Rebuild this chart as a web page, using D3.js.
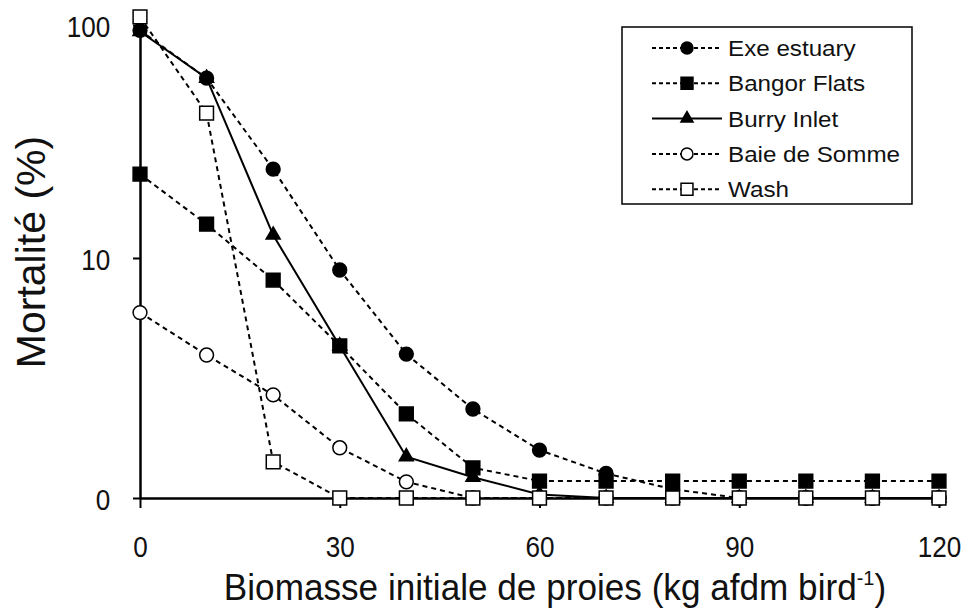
<!DOCTYPE html>
<html>
<head>
<meta charset="utf-8">
<script src="https://cdn.jsdelivr.net/npm/d3@7"></script>
<style>
  html, body { margin: 0; padding: 0; background: #fff; }
  svg { display: block; font-family: "Liberation Sans", Arial, sans-serif; }
</style>
</head>
<body>
<svg id="chart" width="970" height="608"></svg>
<script>
// ---- data ----
const biomass = [0, 10, 20, 30, 40, 50, 60, 70, 80, 90, 100, 110, 120];
const exeEstuary   = [95, 60, 24.7, 8.8, 3.34, 1.52, 0.66, 0.3, 0.1, 0, 0, 0, 0];
const bangorFlats  = [23.5, 14.2, 7.9, 3.7, 1.4, 0.38, 0.2, 0.2, 0.2, 0.2, 0.2, 0.2, 0.2];
const burryInlet   = [94, 60, 12.7, 3.7, 0.55, 0.25, 0.04, 0, 0, 0, 0, 0, 0];
const baieDeSomme  = [5.5, 3.3, 1.9, 0.7, 0.19, 0, 0, 0, 0, 0, 0, 0, 0];
const wash         = [108, 42.8, 0.47, 0, 0, 0, 0, 0, 0, 0, 0, 0, 0];
const seriesNames  = ["Exe estuary", "Bangor Flats", "Burry Inlet", "Baie de Somme", "Wash"];
const xTicks = [0, 30, 60, 90, 120];
const yTicks = [0, 10, 100];
const xTitle = "Biomasse initiale de proies (kg afdm bird";
const yTitle = "Mortalité (%)";

// ---- styles ----
const series = [
  { name: seriesNames[0], values: exeEstuary,  symbol: d3.symbolCircle,   fill: "#000", dash: "5,4" },
  { name: seriesNames[1], values: bangorFlats, symbol: d3.symbolSquare,   fill: "#000", dash: "5,4" },
  { name: seriesNames[2], values: burryInlet,  symbol: d3.symbolTriangle, fill: "#000", dash: null },
  { name: seriesNames[3], values: baieDeSomme, symbol: d3.symbolCircle,   fill: "#fff", dash: "5,4" },
  { name: seriesNames[4], values: wash,        symbol: d3.symbolSquare,   fill: "#fff", dash: "5,4" }
];
function symbolSize(s) {
  if (s === d3.symbolCircle) return 150;
  if (s === d3.symbolSquare) return 190;
  return 85;
}

const svg = d3.select("#chart");
const x = d3.scaleLinear().domain([0, 120]).range([140, 939]);
const y = d3.scaleSymlog().constant(1.15).domain([0, 100]).range([498, 25]);

const tickSX = 0.9;

// axes
const yAxis = svg.append("g").attr("transform", "translate(140,0)")
  .call(d3.axisLeft(y).tickValues(yTicks).tickFormat(d3.format("d")).tickSize(7).tickSizeOuter(0).tickPadding(26));
const xAxis = svg.append("g").attr("transform", "translate(0,498)")
  .call(d3.axisBottom(x).tickValues(xTicks).tickFormat(d3.format("d")).tickSize(10).tickSizeOuter(0).tickPadding(28));
[yAxis, xAxis].forEach(g => {
  g.selectAll("path.domain").attr("stroke", "#000").attr("stroke-width", 2.5);
  g.selectAll(".tick line").attr("stroke", "#000").attr("stroke-width", 2);
  g.selectAll(".tick text").attr("fill", "#111").style("font-size", "29px")
    .style("font-family", "'Liberation Sans', Arial, sans-serif")
    .attr("transform", `scale(${tickSX},1)`);
});
yAxis.selectAll(".tick text").attr("dy", "0.40em");

// lines and markers
const line = d3.line().x((d, i) => x(biomass[i])).y(d => y(d));
series.forEach(s => {
  svg.append("path").datum(s.values)
    .attr("d", line)
    .attr("fill", "none")
    .attr("stroke", "#000")
    .attr("stroke-width", 2)
    .attr("stroke-dasharray", s.dash);
});
series.forEach(s => {
  svg.append("g").selectAll("path").data(s.values).join("path")
    .attr("transform", (d, i) => `translate(${x(biomass[i])},${y(d)})`)
    .attr("d", d3.symbol().type(s.symbol).size(symbolSize(s.symbol)))
    .attr("fill", s.fill)
    .attr("stroke", "#000")
    .attr("stroke-width", 1.5);
});

// axis titles
const xt = svg.append("text").attr("transform", "translate(555,600) scale(0.95,1)")
  .attr("text-anchor", "middle").style("font-size", "37px").attr("fill", "#111");
xt.append("tspan").text(xTitle);
xt.append("tspan").text("-1").attr("dy", -15).style("font-size", "21px");
xt.append("tspan").text(")").attr("dy", 15);

svg.append("text").attr("transform", "translate(45,252) rotate(-90)").attr("text-anchor", "middle")
  .style("font-size", "41px").attr("fill", "#111").text(yTitle);

// legend
const lg = svg.append("g");
lg.append("rect").attr("x", 622).attr("y", 27).attr("width", 290).attr("height", 177)
  .attr("fill", "#fff").attr("stroke", "#000").attr("stroke-width", 1.5);
series.forEach((s, i) => {
  const yy = 48 + i * 35.3;
  lg.append("line").attr("x1", 652).attr("x2", 722).attr("y1", yy).attr("y2", yy)
    .attr("stroke", "#000").attr("stroke-width", 2).attr("stroke-dasharray", s.dash ? "4,3" : null);
  lg.append("path").attr("transform", `translate(687,${yy})`)
    .attr("d", d3.symbol().type(s.symbol).size(symbolSize(s.symbol) * 0.75))
    .attr("fill", s.fill).attr("stroke", "#000").attr("stroke-width", 1.5);
  lg.append("text").attr("transform", `translate(728,${yy}) scale(1.1,1)`).attr("dy", "0.36em")
    .style("font-size", "22px").attr("fill", "#111").text(s.name);
});
</script>
</body>
</html>
